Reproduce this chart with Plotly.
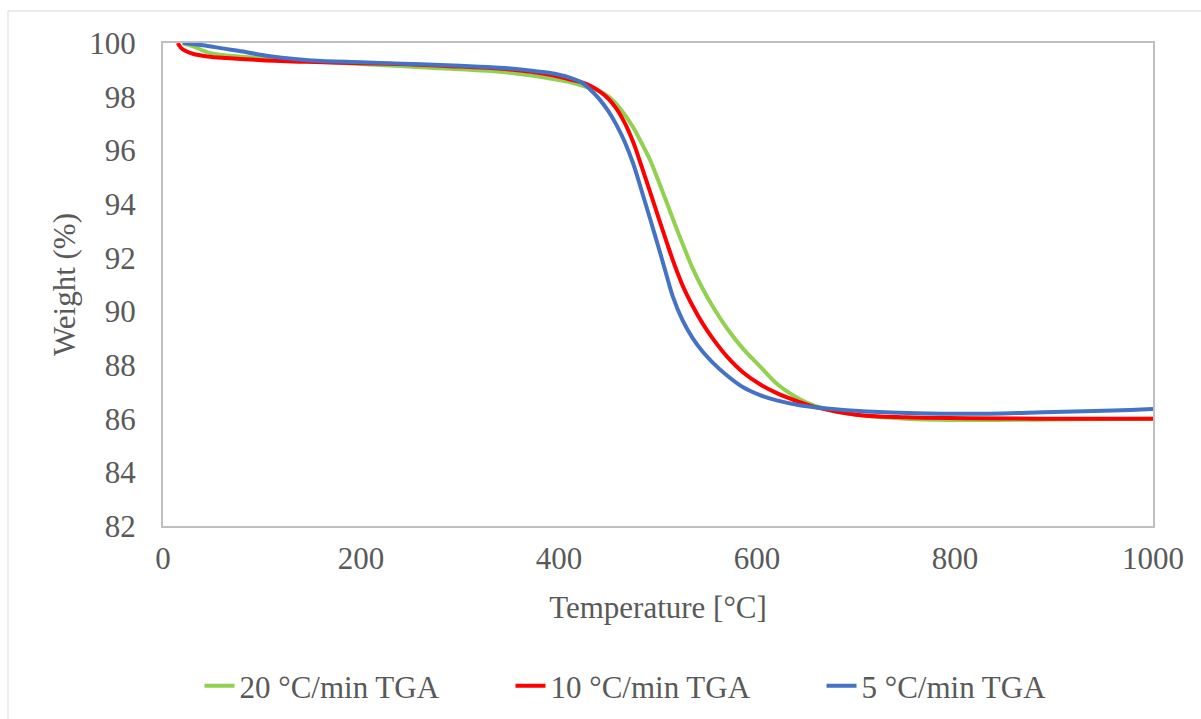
import plotly.graph_objects as go

# 20 °C/min TGA
t20 = [20, 30, 47, 70, 98, 145, 200, 239, 300, 340, 391, 410, 424, 441, 450, 458, 466, 475, 483, 492,
       500, 509, 517, 525, 535, 545, 555, 570, 586, 603, 620, 635, 650, 670, 700, 750, 812, 900, 1000]
w20 = [100, 99.88, 99.63, 99.52, 99.45, 99.33, 99.22, 99.14, 99.02, 98.93, 98.68, 98.55, 98.4, 98.2,
       98.0, 97.72, 97.35, 96.85, 96.3, 95.64, 94.9, 94.04, 93.25, 92.5, 91.6, 90.85, 90.2, 89.35,
       88.6, 87.95, 87.3, 86.9, 86.6, 86.35, 86.15, 86.0, 85.95, 85.97, 86.0]

# 10 °C/min TGA
t10 = [15, 16, 18, 22, 30, 45, 64, 100, 145, 200, 239, 300, 340, 391, 410, 424, 433, 441, 450, 458,
       466, 475, 483, 492, 500, 509, 517, 525, 535, 545, 555, 570, 586, 603, 620, 643, 660, 700, 750,
       812, 900, 1000]
w10 = [100, 99.93, 99.83, 99.72, 99.6, 99.5, 99.44, 99.36, 99.3, 99.25, 99.22, 99.12, 99.05, 98.82,
       98.65, 98.52, 98.38, 98.2, 97.92, 97.55, 97.05, 96.3, 95.45, 94.45, 93.55, 92.55, 91.7, 90.95,
       90.2, 89.55, 89.0, 88.3, 87.72, 87.28, 86.95, 86.62, 86.42, 86.15, 86.05, 86.02, 86.0, 86.0]

# 5 °C/min TGA
t5 = [20, 40, 60, 81, 100, 120, 150, 200, 250, 300, 340, 370, 391, 410, 424, 432, 441, 450, 458, 466,
      475, 483, 492, 502, 509, 515, 525, 535, 545, 555, 570, 586, 603, 620, 643, 670, 711, 812, 900,
      960, 1000]
w5 = [100, 99.92, 99.8, 99.68, 99.55, 99.45, 99.35, 99.28, 99.22, 99.15, 99.08, 98.98, 98.88, 98.72,
      98.5, 98.25, 97.9, 97.45, 96.95, 96.35, 95.5, 94.55, 93.45, 92.2, 91.3, 90.55, 89.65, 89.0,
      88.5, 88.1, 87.6, 87.17, 86.88, 86.68, 86.5, 86.38, 86.27, 86.18, 86.25, 86.3, 86.36]

names = ["20 °C/min TGA", "10 °C/min TGA", "5 °C/min TGA"]
colors = ["#92D050", "#FF0000", "#4472C4"]

x_ticks = [0, 200, 400, 600, 800, 1000]
y_ticks = [82, 84, 86, 88, 90, 92, 94, 96, 98, 100]

FONT = "Liberation Serif, Times New Roman, serif"
TXT = "#595959"

fig = go.Figure()
for t, w, n, c in zip([t20, t10, t5], [w20, w10, w5], names, colors):
    fig.add_trace(go.Scatter(x=t, y=w, mode="lines", name=n,
                             line=dict(color=c, width=4, shape="spline", smoothing=1.0)))

L, R, T, B = 163, 1153, 43, 526
W, H = 1201, 719
pw, ph = R - L, B - T

fig.update_layout(
    width=W, height=H,
    margin=dict(l=L, r=W - R, t=T, b=H - B, autoexpand=False),
    paper_bgcolor="white", plot_bgcolor="white",
    font=dict(family=FONT, size=31, color=TXT),
    showlegend=True,
    legend=dict(orientation="h", x=(666 - L) / pw, xanchor="center",
                y=(B - 686) / ph, yanchor="middle",
                font=dict(family=FONT, size=31, color=TXT),
                entrywidth=266, entrywidthmode="pixels",
                bgcolor="rgba(0,0,0,0)"),
    xaxis=dict(range=[0, 1000], tickvals=x_ticks, ticktext=[str(v) for v in x_ticks],
               showgrid=False, zeroline=False, showline=True, mirror=True,
               linecolor="#BFBFBF", linewidth=2, ticks="", ticklabelstandoff=4,
               title=dict(text="Temperature [°C]", standoff=21,
                          font=dict(family=FONT, size=31, color=TXT))),
    yaxis=dict(range=[82, 100], tickvals=y_ticks, ticktext=[str(v) for v in y_ticks],
               showgrid=False, zeroline=False, showline=True, mirror=True,
               linecolor="#BFBFBF", linewidth=2, ticks="", ticklabelstandoff=19,
               title=dict(text="Weight (%)", standoff=4,
                          font=dict(family=FONT, size=31, color=TXT))),
    shapes=[dict(type="rect", xref="paper", yref="paper",
                 x0=(8 - L) / pw, x1=(1210 - L) / pw,
                 y0=(B - 730) / ph, y1=(B - 11) / ph,
                 line=dict(color="#D9D9D9", width=1), fillcolor="rgba(0,0,0,0)",
                 layer="below")],
)

fig.write_html("out.html")
